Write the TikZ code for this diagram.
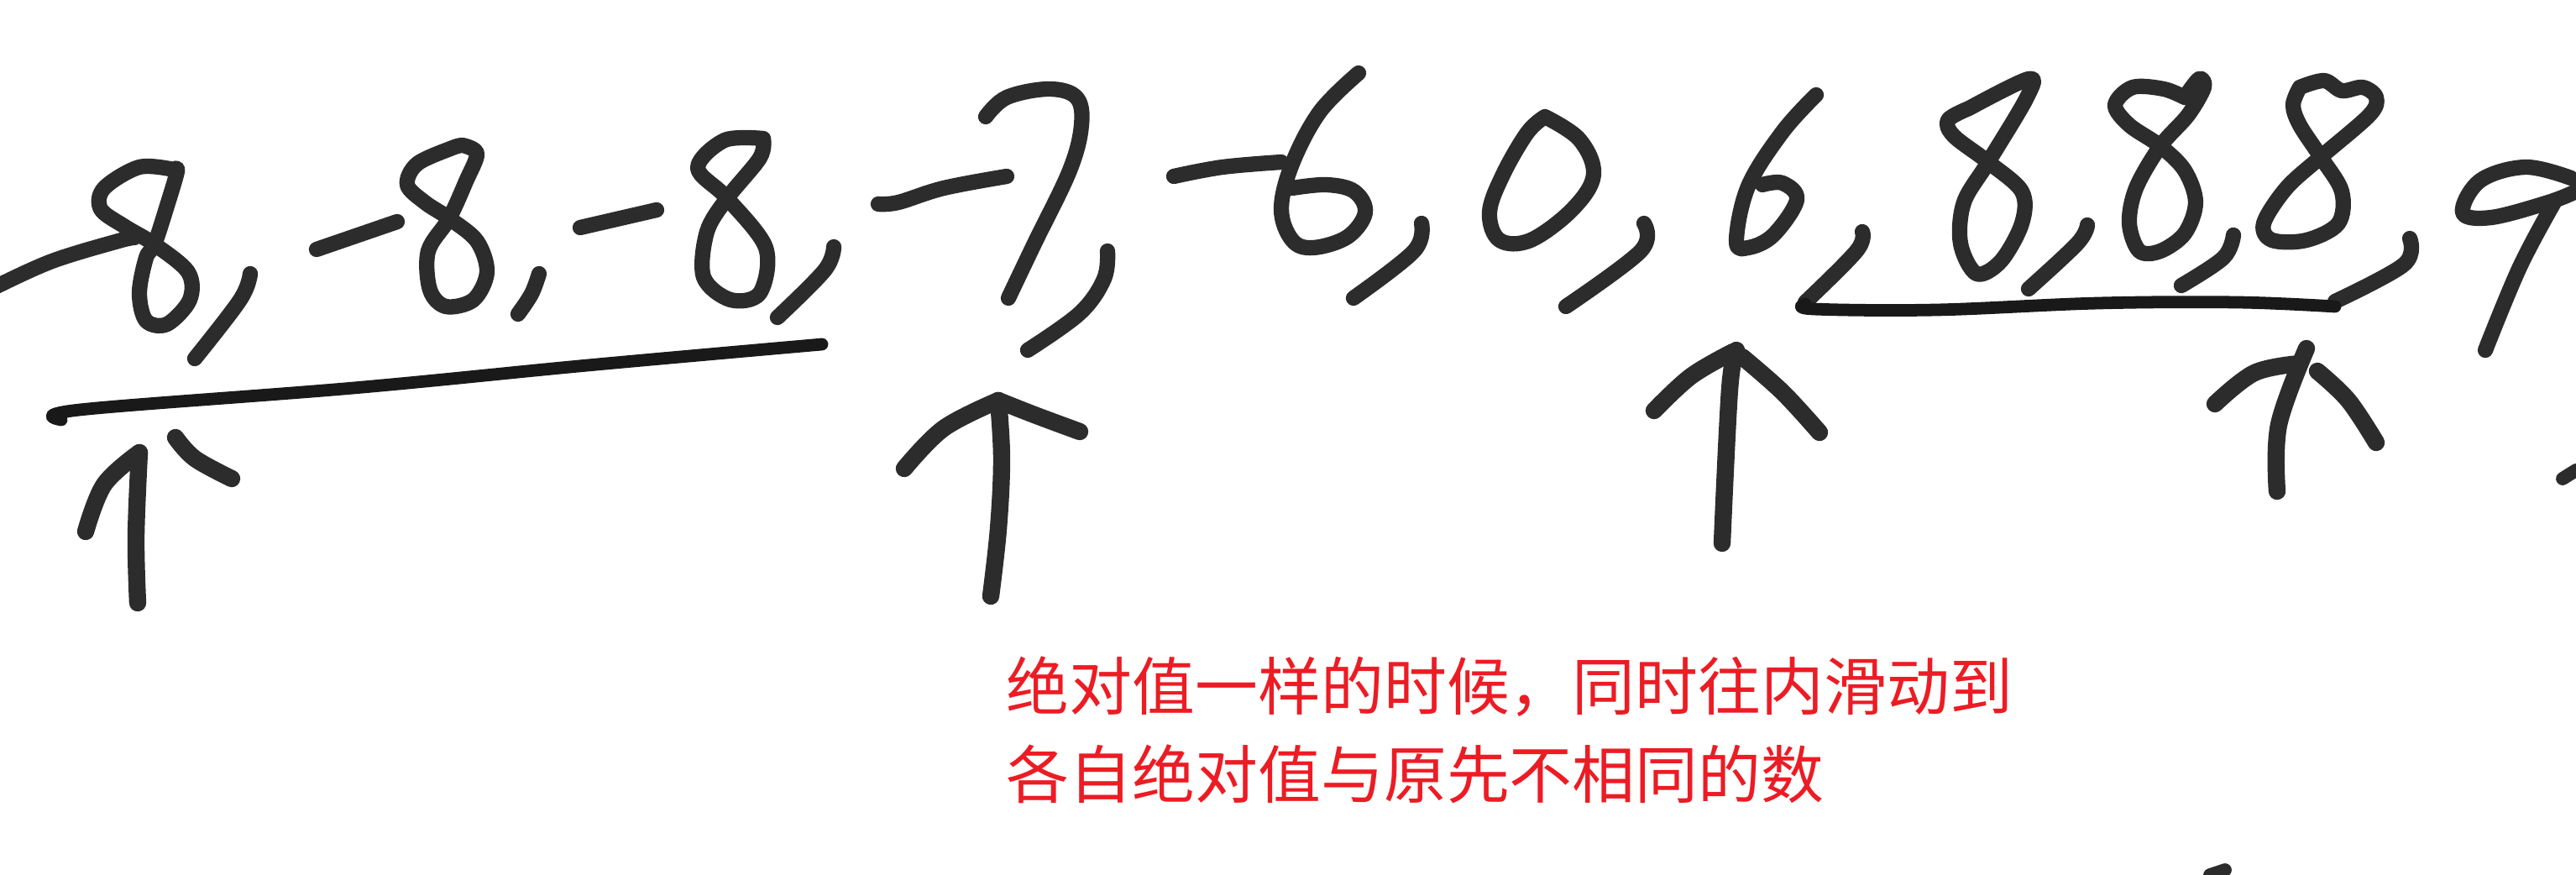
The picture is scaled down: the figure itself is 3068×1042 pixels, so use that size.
\documentclass[tikz,border=0pt]{standalone}
\usepackage{fontspec}
\newfontfamily\cjk{Noto Sans CJK SC}
\definecolor{ink}{RGB}{44,44,44}
\definecolor{redtxt}{RGB}{236,28,36}
\tikzset{
  hw/.style={draw=ink, line width=5.2pt, line cap=round, line join=round},
  uline/.style={hw, draw=black!90, line width=4.2pt},
  arr/.style={hw, line width=5.8pt},
  note/.style={inner sep=0pt, anchor=base west, text=redtxt, font=\cjk\fontsize{21.3pt}{25pt}\selectfont}
}
\begin{document}
\begin{tikzpicture}[x=0.01cm, y=-0.01cm]
\useasboundingbox[fill=white] (0,0) rectangle (3068,1042);
% ---- -8 , -8 , -8 ,
\draw[hw] plot[smooth, tension=0.6] coordinates {(-4,341) (62,311) (141,287) (160,283)};
\draw[hw] plot[smooth, tension=0.55] coordinates {(207,202) (166,199) (124,224) (120,249) (149,270) (184,291) (224,324) (226,357) (199,386) (174,382) (166,349) (174,307) (184,291) (199,245) (211,204) (207,202)};
\draw[hw] plot[smooth, tension=0.6] coordinates {(298,326) (286,357) (232,427)};
\draw[hw] (377,297) -- (473,264);
\draw[hw] plot[smooth, tension=0.55] coordinates {(551,173) (539,176) (497,195) (485,220) (506,241) (535,260) (568,287) (580,324) (564,357) (531,365) (512,345) (510,299) (535,260) (555,216) (568,183) (551,173)};
\draw[hw] plot[smooth, tension=0.6] coordinates {(642,326) (633,350) (617,374)};
\draw[hw] (691,271) -- (782,250);
\draw[hw] plot[smooth, tension=0.55] coordinates {(909,165) (863,167) (831,200) (866,236) (912,295) (905,349) (870,357) (838,330) (842,276) (866,236) (905,188) (909,165)};
\draw[hw] plot[smooth, tension=0.6] coordinates {(993,294) (982,322) (926,378)};
% underline left group
\draw[uline] plot[smooth, tension=0.6] coordinates {(73,500) (95,488) (421,462) (700,435) (979,410)};
% left arrow
\draw[arr] plot[smooth, tension=0.6] coordinates {(166,539) (162,639) (164,718)};
\draw[arr] plot[smooth, tension=0.6] coordinates {(102,633) (124,577) (166,539)};
\draw[arr] plot[smooth, tension=0.6] coordinates {(209,521) (232,546) (276,570)};
% ---- -7 ,
\draw[hw] plot[smooth, tension=0.6] coordinates {(1046,243) (1070,241) (1124,224) (1199,210)};
\draw[hw] plot[smooth, tension=0.6] coordinates {(1174,139) (1199,116) (1249,106) (1282,116) (1288,149) (1274,203) (1232,290) (1201,355)};
\draw[hw] plot[smooth, tension=0.6] coordinates {(1319,299) (1315,332) (1286,373) (1224,417)};
% arrow under -7
\draw[arr] plot[smooth, tension=0.6] coordinates {(1189,477) (1193,547) (1189,630) (1180,710)};
\draw[arr] plot[smooth, tension=0.6] coordinates {(1077,558) (1124,510) (1189,477)};
\draw[arr] plot[smooth, tension=0.6] coordinates {(1189,477) (1232,494) (1286,514)};
% ---- -6 , 0 ,
\draw[hw] plot[smooth, tension=0.6] coordinates {(1398,210) (1456,199) (1526,193)};
\draw[hw] plot[smooth, tension=0.6] coordinates {(1618,87) (1572,133) (1539,195) (1526,249) (1539,286) (1564,295) (1605,282) (1626,253) (1613,228) (1580,220) (1539,224)};
\draw[hw] plot[smooth, tension=0.6] coordinates {(1693,266) (1684,299) (1612,355)};
\draw[hw] plot[smooth, tension=0.6] coordinates {(1840,139) (1881,166) (1898,208) (1873,249) (1823,286) (1786,286) (1774,253) (1790,208) (1819,158) (1840,139)};
\draw[hw] plot[smooth, tension=0.6] coordinates {(1958,266) (1954,299) (1865,365)};
% ---- 6 ,
\draw[hw] plot[smooth, tension=0.6] coordinates {(2163,113) (2123,157) (2082,222) (2068,287) (2082,295) (2112,280) (2140,238) (2123,218) (2099,220)};
\draw[hw] plot[smooth, tension=0.6] coordinates {(2218,276) (2211,299) (2150,360)};
% arrow under 6
\draw[arr] plot[smooth, tension=0.6] coordinates {(2051,647) (2060,464) (2068,417)};
\draw[arr] plot[smooth, tension=0.6] coordinates {(1970,489) (2014,448) (2064,419)};
\draw[arr] plot[smooth, tension=0.6] coordinates {(2075,425) (2123,467) (2167,515)};
% ---- 8 , 8 , 8 ,
\draw[hw] plot[smooth, tension=0.55] coordinates {(2345,129) (2416,94) (2414,116) (2368,193) (2339,241) (2335,290) (2354,326) (2383,311) (2408,266) (2408,228) (2368,193) (2327,162) (2320,143) (2345,129)};
\draw[hw] plot[smooth, tension=0.6] coordinates {(2486,268) (2474,290) (2416,344)};
\draw[hw] plot[smooth, tension=0.55] coordinates {(2602,116) (2577,106) (2540,104) (2519,125) (2536,149) (2573,174) (2602,203) (2615,241) (2602,278) (2573,299) (2548,299) (2536,266) (2544,224) (2573,174) (2606,137) (2625,104) (2619,94) (2602,116)};
\draw[hw] plot[smooth, tension=0.6] coordinates {(2660,280) (2648,307) (2598,340)};
\draw[hw] plot[smooth, tension=0.55] coordinates {(2739,104) (2768,96) (2789,108) (2814,104) (2830,116) (2822,137) (2764,187) (2723,224) (2696,266) (2706,286) (2747,286) (2785,266) (2789,228) (2764,187) (2739,149) (2731,125) (2739,104)};
\draw[hw] plot[smooth, tension=0.6] coordinates {(2870,284) (2863,315) (2781,359)};
% underline right group
\draw[uline] plot[smooth, tension=0.6] coordinates {(2150,362) (2160,368) (2306,369) (2499,361) (2665,360) (2781,365)};
% arrow under last 8
\draw[arr] plot[smooth, tension=0.6] coordinates {(2712,585) (2714,506) (2747,415)};
\draw[arr] plot[smooth, tension=0.6] coordinates {(2638,481) (2685,444) (2739,433)};
\draw[arr] plot[smooth, tension=0.6] coordinates {(2760,442) (2797,477) (2830,527)};
% ---- 9
\draw[hw] plot[smooth, tension=0.6] coordinates {(3062,212) (3008,199) (2954,215) (2933,253) (2967,259) (3035,241) (3068,228)};
\draw[hw] plot[smooth, tension=0.6] coordinates {(3042,241) (3001,318) (2960,417)};
% stray marks
\draw[hw, line width=4.5pt] (3052,570) -- (3068,560);
\draw[hw, line width=4.5pt] (2632,1042) -- (2650,1036);
% ---- red note
\node[note] (l1) at (1198,845) {绝对值一样的时候，同时往内滑动到};
\node[note] (l2) at (1198,950) {各自绝对值与原先不相同的数};
\end{tikzpicture}
\end{document}
